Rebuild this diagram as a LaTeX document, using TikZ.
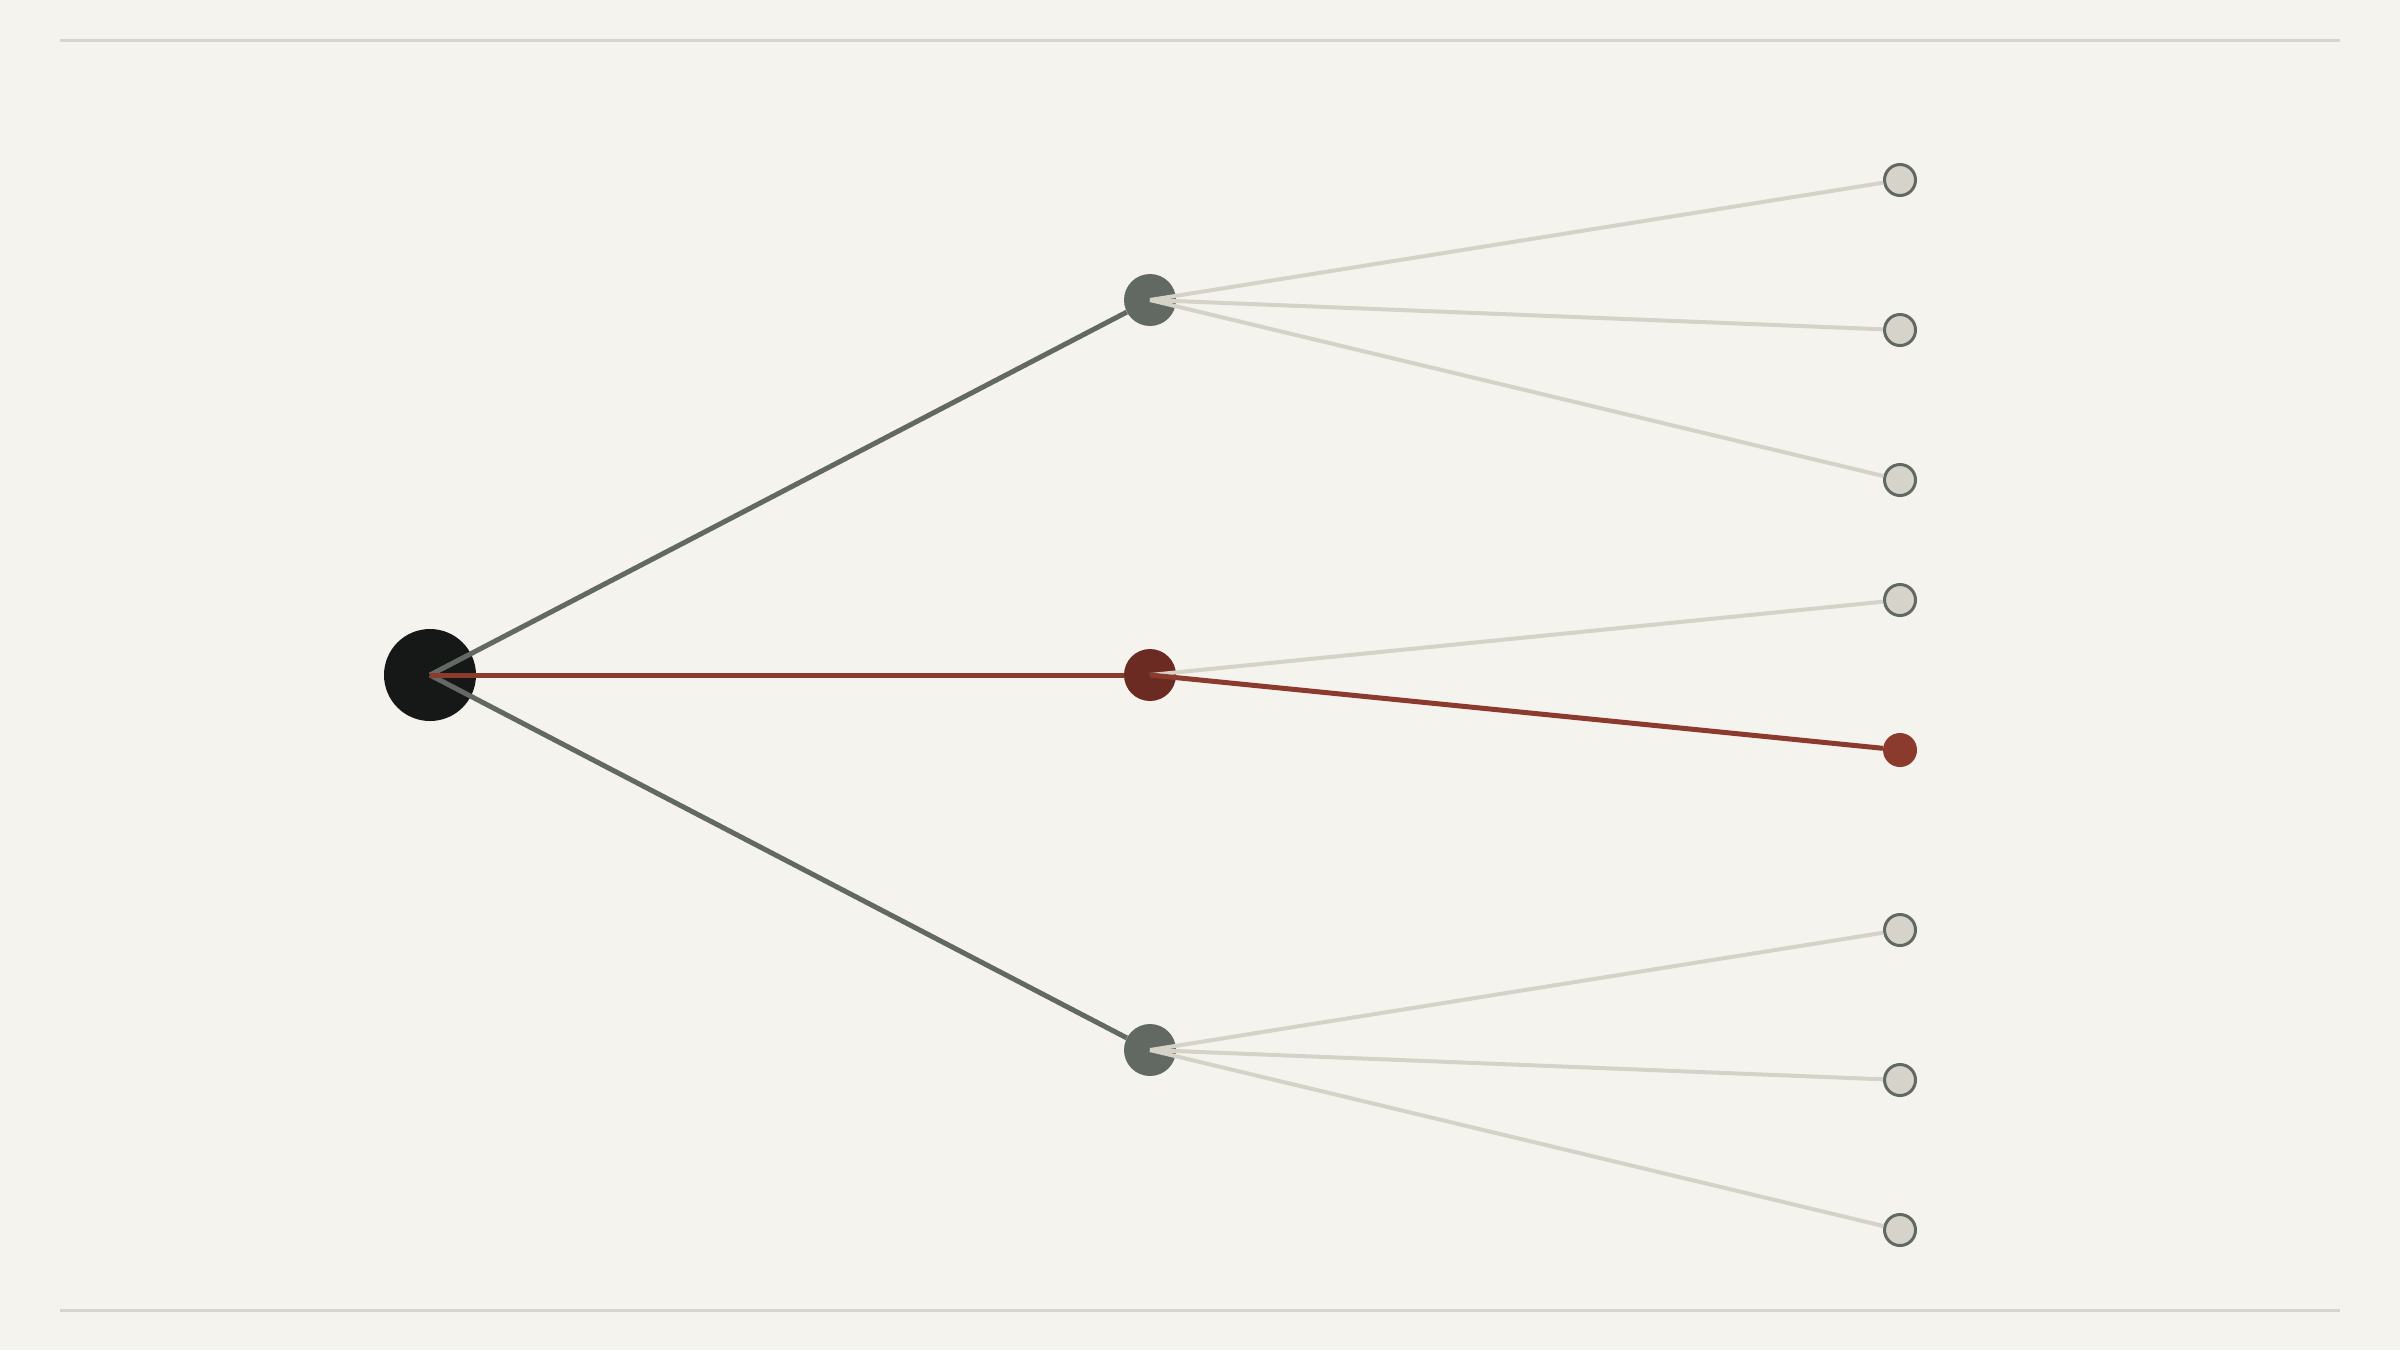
\documentclass[tikz,border=0pt]{standalone}
\definecolor{paper}{HTML}{F5F3EE}
\definecolor{rule}{HTML}{D8D5CC}
\definecolor{ink}{HTML}{161817}
\definecolor{slate}{HTML}{626862}
\definecolor{wine}{HTML}{6B2A22}
\definecolor{rust}{HTML}{8B3A2E}
\definecolor{pale}{HTML}{D5D2C8}
\definecolor{leaffill}{HTML}{D6D4CA}
\begin{document}
\begin{tikzpicture}[x=1pt,y=-1pt,
  rootnode/.style={circle,fill=ink,inner sep=0pt,minimum size=92pt},
  midnode/.style={circle,fill=slate,inner sep=0pt,minimum size=52pt},
  leafnode/.style={circle,fill=leaffill,draw=slate,line width=3pt,inner sep=0pt,minimum size=31pt},
  hotleaf/.style={circle,fill=rust,inner sep=0pt,minimum size=34pt},
  trunk/.style={draw=slate,line width=5pt},
  hot/.style={draw=rust,line width=5pt},
  twig/.style={draw=pale,line width=4pt}]
\fill[paper] (0,0) rectangle (2400,1350);
\useasboundingbox (0,0) rectangle (2400,1350);

\draw[rule,line width=3pt] (60,40) -- (2340,40);
\draw[rule,line width=3pt] (60,1310) -- (2340,1310);

\node[rootnode] (r) at (430,675) {};
\node[midnode] (a) at (1150,300) {};
\node[midnode,fill=wine] (b) at (1150,675) {};
\node[midnode] (c) at (1150,1050) {};

\node[leafnode] (a1) at (1900,180) {};
\node[leafnode] (a2) at (1900,330) {};
\node[leafnode] (a3) at (1900,480) {};
\node[leafnode] (b1) at (1900,600) {};
\node[hotleaf] (b2) at (1900,750) {};
\node[leafnode] (c1) at (1900,930) {};
\node[leafnode] (c2) at (1900,1080) {};
\node[leafnode] (c3) at (1900,1230) {};

\draw[trunk] (r.center) -- (a);
\draw[trunk] (r.center) -- (c);
\draw[hot] (r.center) -- (b);

\draw[twig] (a.center) -- (a1);
\draw[twig] (a.center) -- (a2);
\draw[twig] (a.center) -- (a3);
\draw[twig] (b.center) -- (b1);
\draw[hot] (b.center) -- (b2);
\draw[twig] (c.center) -- (c1);
\draw[twig] (c.center) -- (c2);
\draw[twig] (c.center) -- (c3);
\end{tikzpicture}
\end{document}
